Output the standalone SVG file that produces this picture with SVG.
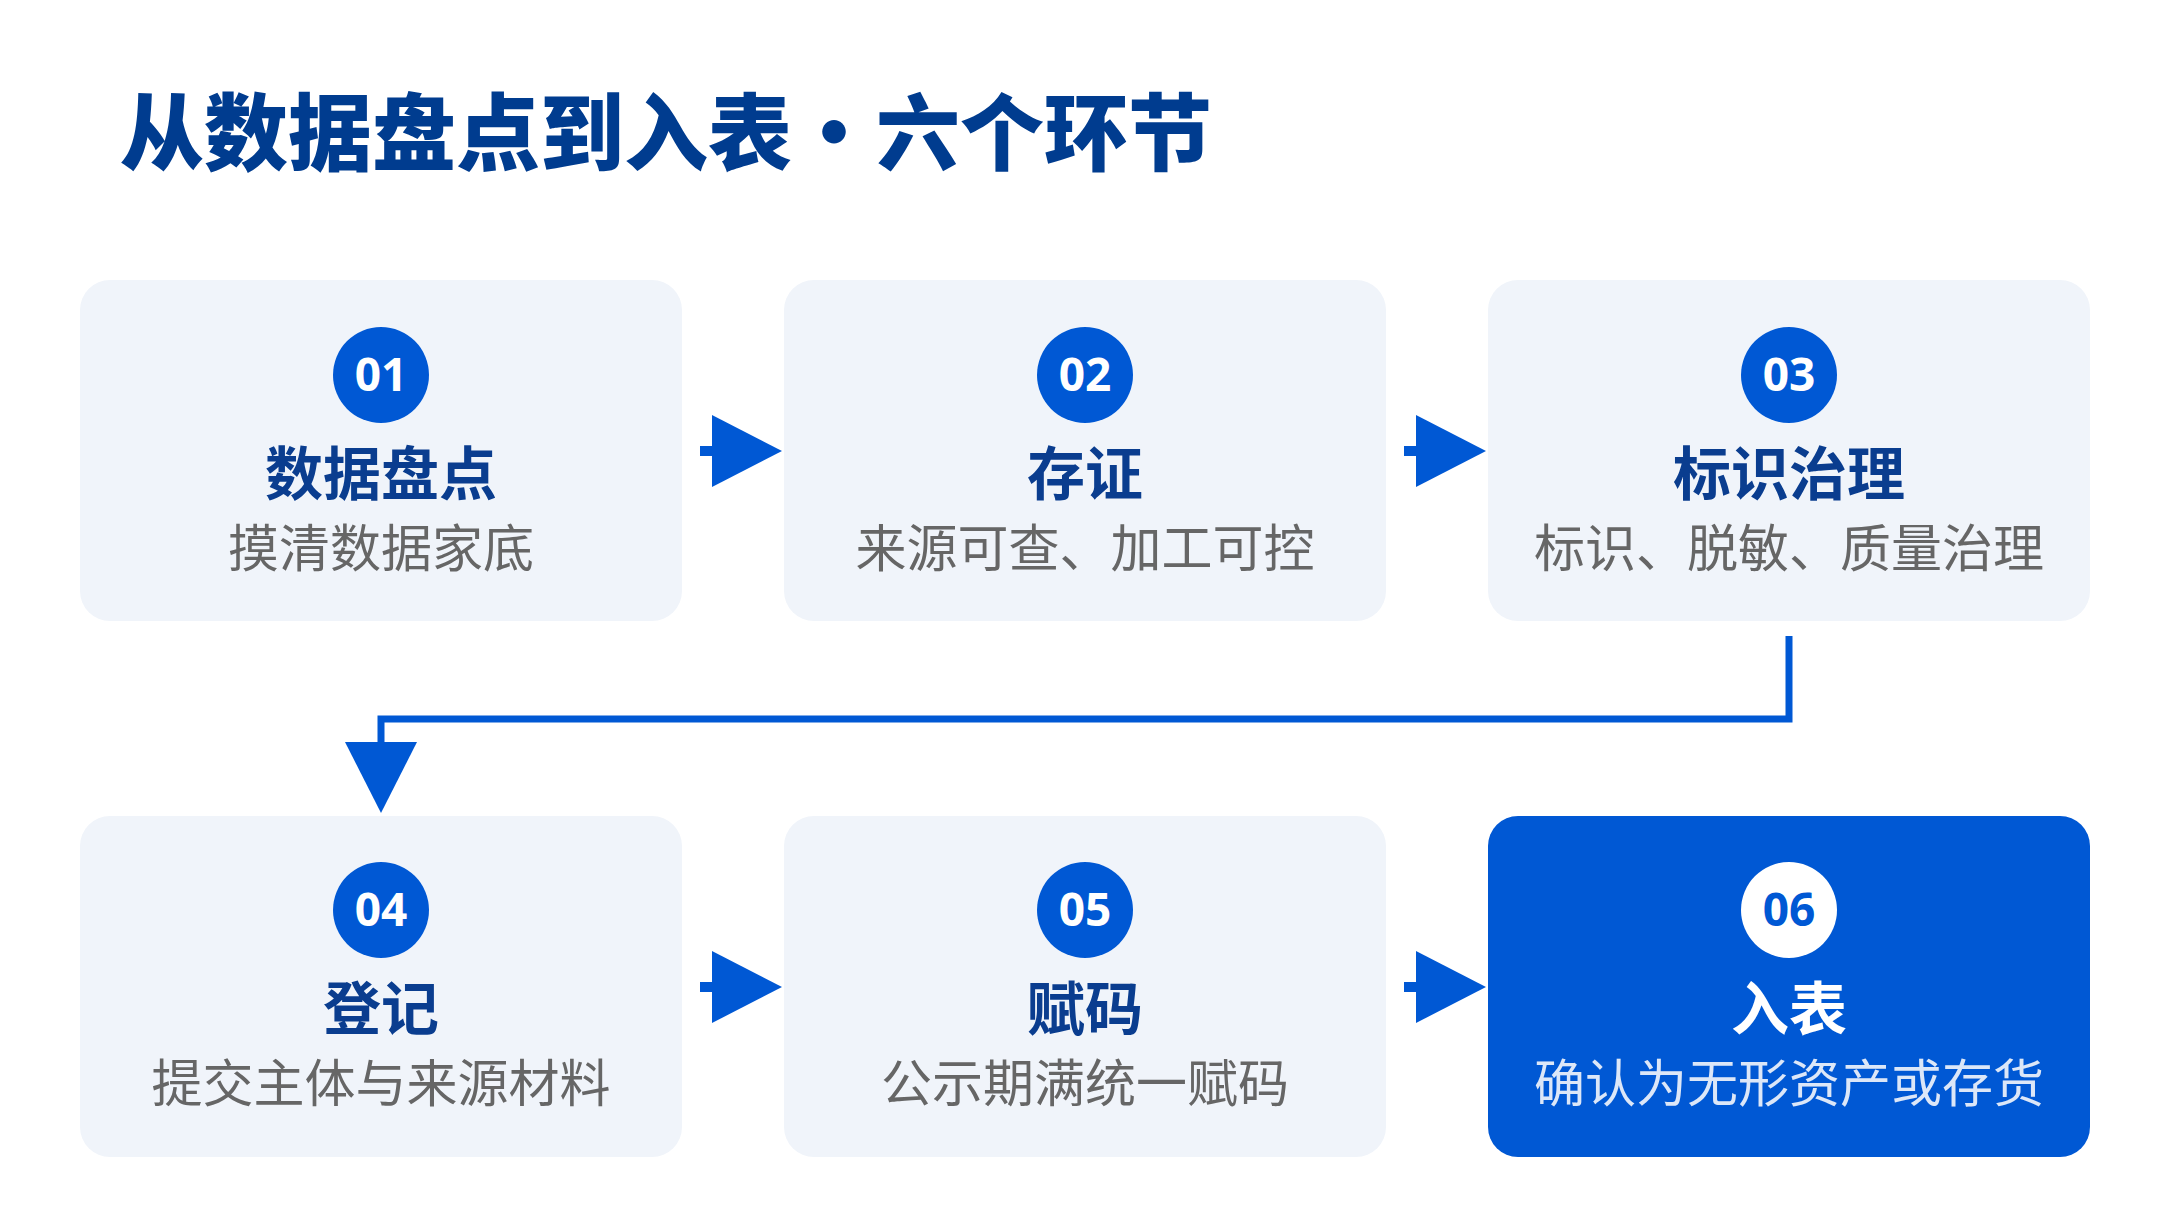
<svg xmlns="http://www.w3.org/2000/svg" width="2160" height="1232" viewBox="0 0 2160 1232">
<style>
.box{fill:#F0F4FA}
.act{fill:#0058D4}
.num{font-family:"Open Sans","Noto Sans",sans-serif;font-weight:700;font-size:46px;fill:#fff;text-anchor:middle}
.t{font-family:"Noto Sans CJK SC",sans-serif;font-weight:700;font-size:58px;fill:#0A3D8F;text-anchor:middle}
.s{font-family:"Noto Sans CJK SC",sans-serif;font-size:51px;fill:#666;text-anchor:middle}
.c{fill:#0058D4}
.ar{fill:#0058D4}
</style>
<rect width="2160" height="1232" fill="#fff"/>
<text x="120" y="164" font-family="'Noto Sans CJK SC',sans-serif" font-weight="900" font-size="84" fill="#003C8F">从数据盘点到入表・六个环节</text>
<g id="connectors">
<rect x="700" y="446" width="14" height="10" class="ar"/><polygon points="712,415 782,451 712,487" class="ar"/>
<rect x="1404" y="446" width="14" height="10" class="ar"/><polygon points="1416,415 1486,451 1416,487" class="ar"/>
<rect x="700" y="982" width="14" height="10" class="ar"/><polygon points="712,951 782,987 712,1023" class="ar"/>
<rect x="1404" y="982" width="14" height="10" class="ar"/><polygon points="1416,951 1486,987 1416,1023" class="ar"/>
<polyline points="1789,636 1789,719 381,719 381,748" fill="none" stroke="#0058D4" stroke-width="7"/>
<polygon points="345,742 417,742 381,813" class="ar"/>
</g>
<g id="n1"><rect x="80" y="280" width="602" height="341" rx="30" class="box"/><circle cx="381" cy="375" r="48" class="c"/><text x="381" y="391" class="num">01</text><text x="381" y="495" class="t">数据盘点</text><text x="381" y="567" class="s">摸清数据家底</text></g>
<g id="n2"><rect x="784" y="280" width="602" height="341" rx="30" class="box"/><circle cx="1085" cy="375" r="48" class="c"/><text x="1085" y="391" class="num">02</text><text x="1085" y="495" class="t">存证</text><text x="1085" y="567" class="s">来源可查、加工可控</text></g>
<g id="n3"><rect x="1488" y="280" width="602" height="341" rx="30" class="box"/><circle cx="1789" cy="375" r="48" class="c"/><text x="1789" y="391" class="num">03</text><text x="1789" y="495" class="t">标识治理</text><text x="1789" y="567" class="s">标识、脱敏、质量治理</text></g>
<g id="n4"><rect x="80" y="816" width="602" height="341" rx="30" class="box"/><circle cx="381" cy="910" r="48" class="c"/><text x="381" y="926" class="num">04</text><text x="381" y="1030" class="t">登记</text><text x="381" y="1102" class="s">提交主体与来源材料</text></g>
<g id="n5"><rect x="784" y="816" width="602" height="341" rx="30" class="box"/><circle cx="1085" cy="910" r="48" class="c"/><text x="1085" y="926" class="num">05</text><text x="1085" y="1030" class="t">赋码</text><text x="1085" y="1102" class="s">公示期满统一赋码</text></g>
<g id="n6"><rect x="1488" y="816" width="602" height="341" rx="30" class="act"/><circle cx="1789" cy="910" r="48" fill="#fff"/><text x="1789" y="926" class="num" fill="#0058D4" style="fill:#0058D4">06</text><text x="1789" y="1030" class="t" style="fill:#fff">入表</text><text x="1789" y="1102" class="s" style="fill:#DCE7F8">确认为无形资产或存货</text></g>
</svg>
